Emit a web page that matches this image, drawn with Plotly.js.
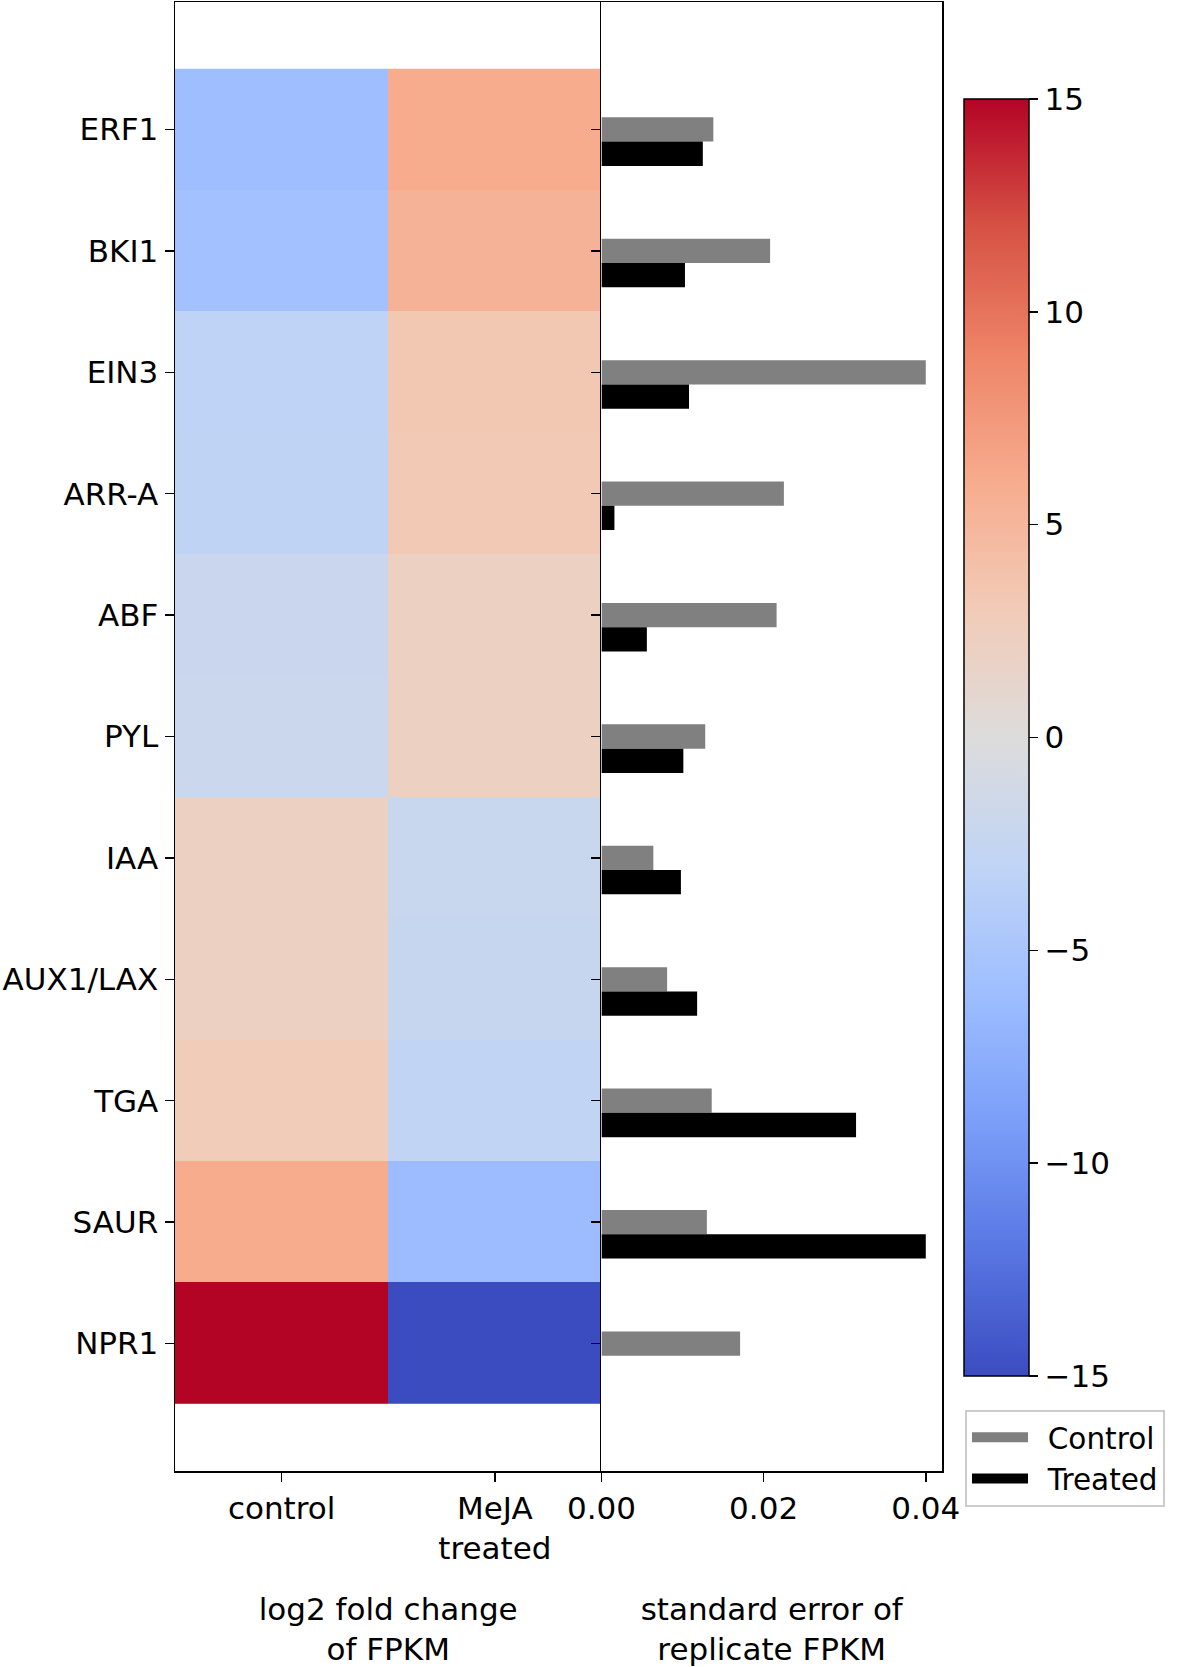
<!DOCTYPE html>
<html>
<head>
<meta charset="utf-8">
<script src="https://cdn.plot.ly/plotly-3.0.1.min.js"></script>
<style>
  body { margin: 0; background: #fff; }
  #chart { width: 1181px; height: 1667px; }
</style>
</head>
<body>
<div id="chart"></div>
<script>
// genes, top to bottom
var genes = ['ERF1', 'BKI1', 'EIN3', 'ARR-A', 'ABF', 'PYL', 'IAA', 'AUX1/LAX', 'TGA', 'SAUR', 'NPR1'];
var conditions = ['control', 'MeJA<br>treated'];

// log2 fold change of FPKM
var log2Control = [-6.0, -5.6, -3.2, -3.1, -2.1, -2.0, 2.2, 2.2, 2.8, 6.0, 15];
var log2Treated = [6.0, 5.4, 3.3, 3.2, 2.1, 2.1, -2.2, -2.3, -2.9, -6.2, -15];

// standard error of replicate FPKM
var seControl = [0.0138, 0.0208, 0.0400, 0.0225, 0.0216, 0.0128, 0.0064, 0.0081, 0.0136, 0.0130, 0.0171];
var seTreated = [0.0125, 0.0103, 0.0108, 0.0016, 0.0056, 0.0101, 0.0098, 0.0118, 0.0314, 0.0400, 0];

var cbTicks = [-15, -10, -5, 0, 5, 10, 15];
var seTicks = [0, 0.02, 0.04];

// matplotlib coolwarm
var coolwarm = [
    [0.0, '#3b4cc0'], [0.1, '#5977e3'], [0.2, '#7b9ff9'], [0.3, '#9ebeff'],
    [0.4, '#c0d4f5'], [0.5, '#dddcdc'], [0.6, '#f2cbb7'], [0.7, '#f7ac8e'],
    [0.8, '#ee8468'], [0.9, '#d65244'], [1.0, '#b40426']
];

var FONT = 'DejaVu Sans, sans-serif';
var FS = 31;

var z = [];
for (var i = 0; i < genes.length; i++) {
    z.push([log2Control[i], log2Treated[i]]);
}

var heat = {
    type: 'heatmap', x: conditions, y: genes, z: z,
    xaxis: 'x', yaxis: 'y',
    colorscale: coolwarm, zmin: -15, zmax: 15,
    hoverinfo: 'x+y+z',
    colorbar: {
        thickness: 65, thicknessmode: 'pixels',
        len: 1277, lenmode: 'pixels',
        x: 1.029, xanchor: 'left', y: 0.934, yanchor: 'top',
        xpad: 0, ypad: 0,
        outlinewidth: 1.5, outlinecolor: '#000',
        tickvals: cbTicks, ticks: 'outside', ticklen: 9, tickwidth: 1.5, tickcolor: '#000',
        tickfont: {family: FONT, size: FS, color: '#000'}
    }
};

var barControl = {
    type: 'bar', orientation: 'h', name: 'Control', showlegend: false,
    x: seControl, y: genes, xaxis: 'x2', yaxis: 'y2',
    width: 0.2, offset: -0.1,
    marker: {color: '#808080', line: {width: 0}}
};
var barTreated = {
    type: 'bar', orientation: 'h', name: 'Treated', showlegend: false,
    x: seTreated, y: genes, xaxis: 'x2', yaxis: 'y2',
    width: 0.2, offset: 0.1,
    marker: {color: '#000000', line: {width: 0}}
};

// legend entries only (wide patches like matplotlib)
var legControl = {
    type: 'scatter', mode: 'lines', name: '\u2002Control',
    x: [null], y: [null], xaxis: 'x2', yaxis: 'y2',
    line: {color: '#808080', width: 18}, hoverinfo: 'skip'
};
var legTreated = {
    type: 'scatter', mode: 'lines', name: '\u2002Treated',
    x: [null], y: [null], xaxis: 'x2', yaxis: 'y2',
    line: {color: '#000000', width: 18}, hoverinfo: 'skip'
};

var axisBase = {
    showline: true, mirror: true, linecolor: '#000', linewidth: 1.5,
    ticks: 'outside', ticklen: 9, tickwidth: 1.5, tickcolor: '#000',
    showgrid: false, zeroline: false,
    tickfont: {family: FONT, size: FS, color: '#000'}
};

function ax(extra) {
    return Object.assign(JSON.parse(JSON.stringify(axisBase)), extra);
}

var layout = {
    width: 1181, height: 1667,
    margin: {l: 175, r: 239, t: 2, b: 196},
    paper_bgcolor: '#fff', plot_bgcolor: '#fff',
    font: {family: FONT, size: FS, color: '#000'},
    barmode: 'overlay',
    xaxis: ax({
        domain: [0, 0.556], anchor: 'y',
        title: {text: 'log2 fold change<br>of FPKM', font: {family: FONT, size: FS}, standoff: 46}
    }),
    yaxis: ax({
        domain: [0, 1], anchor: 'x', mirror: false,
        range: [11.05, -1.05], autorange: false
    }),
    xaxis2: ax({
        domain: [0.556, 1], anchor: 'y2',
        range: [0, 0.042], autorange: false,
        tickvals: seTicks, tickformat: '.2f',
        title: {text: 'standard error of<br>replicate FPKM', font: {family: FONT, size: FS}, standoff: 74}
    }),
    yaxis2: ax({
        domain: [0, 1], anchor: 'x2', matches: 'y',
        showticklabels: false
    }),
    showlegend: true,
    legend: {
        x: 1.030, xanchor: 'left', y: 0.0418, yanchor: 'top',
        bgcolor: '#fff', bordercolor: '#cccccc', borderwidth: 2,
        font: {family: FONT, size: 29.5, color: '#000'},
        itemwidth: 56, tracegroupgap: 0
    }
};

Plotly.newPlot('chart', [heat, barControl, barTreated, legControl, legTreated], layout, {displayModeBar: false, staticPlot: true});
</script>
</body>
</html>
